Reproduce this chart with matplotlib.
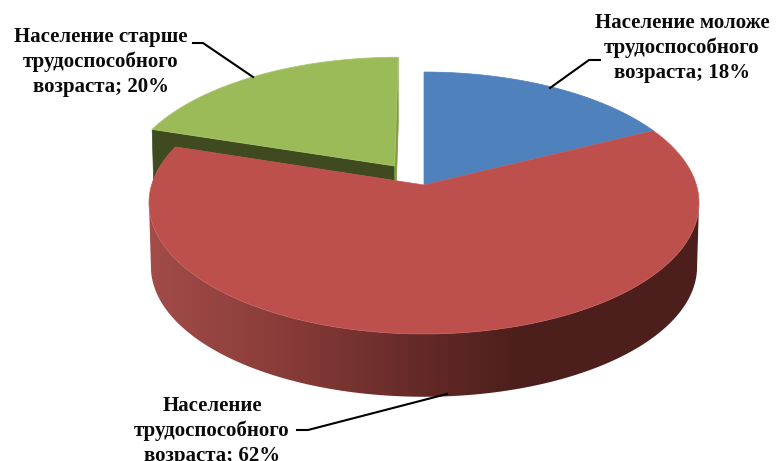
import numpy as np
import matplotlib
matplotlib.use("Agg")
import matplotlib.pyplot as plt
from matplotlib.patches import Polygon
from matplotlib.colors import LinearSegmentedColormap

# --- data ---
shares = [17.6, 62.4, 20.0]
names = ["Население моложе\nтрудоспособного\nвозраста", "Население\nтрудоспособного\nвозраста",
         "Население старше\nтрудоспособного\nвозраста"]
explode = [0.0, 0.0, 0.187]

# --- style ---
TOP = ["#4f81bd", "#bd4f4c", "#9bbb59"]
CX, CY, A, C, D_X, DEPTH, K = 424.0, 185.0, 128.5, 0.1374, 272.4, 64.0, 0.007

fig = plt.figure(figsize=(7.76, 4.61), dpi=100)
ax = fig.add_axes([0, 0, 1, 1])

def project(u, v, z=0.0):
    u, v = np.asarray(u, float), np.asarray(v, float)
    den = 1 + C * v + K * z
    return CX + D_X * u / den, CY - A * v / den + DEPTH * z

def ring(t0, t1, n=300):
    return np.linspace(t0, t1, n)

bounds = np.cumsum([0] + shares) / sum(shares) * 2 * np.pi
slices = []
for i in range(3):
    t0, t1 = bounds[i], bounds[i + 1]
    mid = (t0 + t1) / 2
    ou, ov = explode[i] * np.sin(mid), explode[i] * np.cos(mid)
    slices.append((t0, t1, ou, ov))

def top_poly(s):
    t0, t1, ou, ov = s
    t = ring(t0, t1)
    us = np.r_[ou, ou + np.sin(t)]
    vs = np.r_[ov, ov + np.cos(t)]
    x, y = project(us, vs)
    return np.c_[x, y]

def flat_wall(ua, va, ub, vb):
    xa, ya = project(ua, va); xb, yb = project(ub, vb)
    xc, yc = project(ub, vb, 1); xd, yd = project(ua, va, 1)
    return [(xa, ya), (xb, yb), (xc, yc), (xd, yd)]

# green slice: cut walls, then top
t0, t1, ou, ov = slices[2]
ax.add_patch(Polygon(flat_wall(ou, ov, ou + np.sin(t0), ov + np.cos(t0)), fc="#404a21", ec="#404a21", lw=0.5, zorder=1))
ax.add_patch(Polygon(flat_wall(ou, ov, ou + np.sin(t1), ov + np.cos(t1)), fc="#7d9c41", ec="#7d9c41", lw=0.5, zorder=1))
ax.add_patch(Polygon(top_poly(slices[2]), fc=TOP[2], ec="#a9c56d", lw=0.6, zorder=2))

# blue slice
ax.add_patch(Polygon(top_poly(slices[0]), fc=TOP[0], ec=TOP[0], lw=0.5, zorder=2))

# red slice: outer wall with horizontal gradient (front part only, between the silhouette extremes)
X0, X1 = 148, 699
cmap = LinearSegmentedColormap.from_list("wall", [
    (0.00, "#a34c49"), (0.27, "#853a37"), (0.49, "#652a28"),
    (0.67, "#4d1f1c"), (1.00, "#4d1f1c")])
t0, t1, ou, ov = slices[1]
t = ring(t0, t1, 800)
xt, yt = project(np.sin(t), np.cos(t))
xb, yb = project(np.sin(t), np.cos(t), 1)
i, j = int(np.argmax(xt)), int(np.argmin(xt))
ib, jb = int(np.argmax(xb)), int(np.argmin(xb))
outline = np.r_[np.c_[xt, yt][i:j + 1], np.c_[xb, yb][ib:jb + 1][::-1]]
wall = Polygon(outline, fc="none", ec="none", zorder=3)
ax.add_patch(wall)
img = ax.imshow(np.linspace(0, 1, 552)[None, :], cmap=cmap, vmin=0, vmax=1, extent=(X0, X1, 461, 0),
                aspect="auto", zorder=3, interpolation="bilinear")
img.set_clip_path(wall)
ax.add_patch(Polygon(top_poly(slices[1]), fc=TOP[1], ec="#c35c59", lw=0.5, zorder=4))

ax.set_xlim(0, 776); ax.set_ylim(461, 0); ax.axis("off")

# labels
def label(text, x, y):
    ax.text(x, y, text, ha="center", va="center", family="Liberation Serif", weight="bold",
            fontsize=15, color="#0a0a0a", linespacing=1.32, zorder=6, clip_on=False)

label(f"{names[0]}; {round(shares[0])}%", 682, 48)
label(f"{names[2]}; {round(shares[2])}%", 101, 62)
label(f"{names[1]}; {round(shares[1])}%", 212, 431)

# leaders
for pts in ([(550, 88), (589, 60), (600, 60)],
            [(253, 77), (203, 43), (193, 43)],
            [(447, 394), (308, 430), (297, 430)]):
    ax.plot(*zip(*pts), color="black", lw=1.5, zorder=5, solid_joinstyle="round")

fig.savefig("out.png", dpi=100)
